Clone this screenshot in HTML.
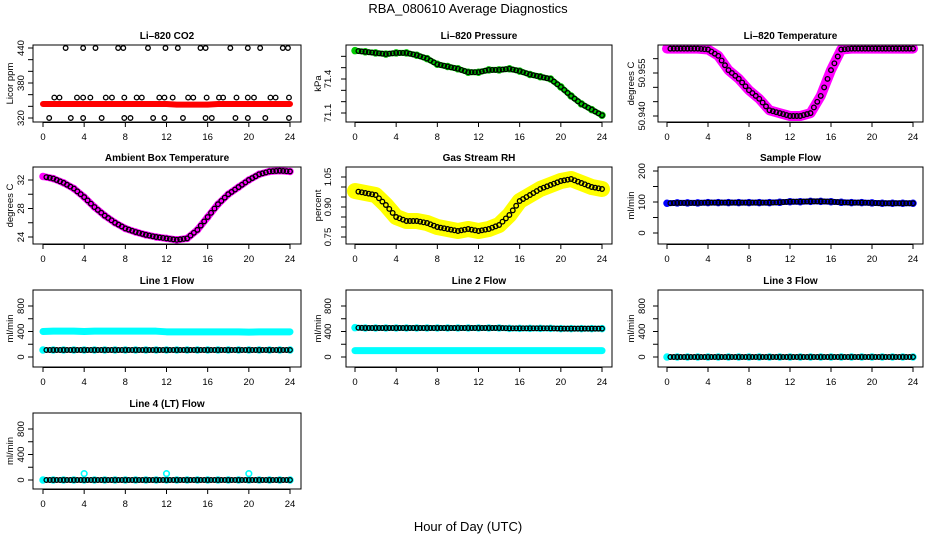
<!DOCTYPE html>
<html><head><meta charset="utf-8"><style>
body{margin:0;background:#fff}
svg text{font-family:"Liberation Sans",sans-serif}
</style></head><body>
<svg id="c" width="936" height="540" viewBox="0 0 936 540" xmlns="http://www.w3.org/2000/svg">
<text x="468" y="13" text-anchor="middle" font-size="13">RBA_080610  Average Diagnostics</text>
<text x="468" y="531" text-anchor="middle" font-size="13">Hour of Day (UTC)</text>
</svg>
<script>
const hours = [0,1,2,3,4,5,6,7,8,9,10,11,12,13,14,15,16,17,18,19,20,21,22,23,24];
const xTicks = [0,4,8,12,16,20,24];
const co2Red = [344,344,344,344,344,344,344,344,344,344,344,344,344,343,343,343,343,344,344,344,344,344,344,344,344];
const co2HighX = [2.2,3.9,5.1,7.3,7.8,10.2,11.9,13.1,15.3,15.8,18.2,19.9,21.1,23.3,23.8];
const co2LowX = [0.6,2.7,3.9,5.7,7.9,8.5,10.7,11.8,13.6,15.8,16.4,18.7,19.9,21.6,23.9];
const co2MidX = [1.1,1.6,3.3,3.9,4.6,6.1,6.7,7.9,9.1,9.6,11.3,11.8,12.6,14.1,14.6,15.9,17.1,17.5,18.8,19.9,20.5,22.1,22.6,23.9];
const pressure = [71.65,71.64,71.63,71.62,71.63,71.63,71.61,71.58,71.53,71.51,71.49,71.46,71.46,71.48,71.48,71.49,71.47,71.44,71.42,71.40,71.33,71.25,71.18,71.13,71.08];
const liTemp = [50.9635,50.9635,50.9635,50.9635,50.9632,50.961,50.956,50.953,50.949,50.946,50.942,50.941,50.940,50.940,50.941,50.947,50.956,50.9632,50.9635,50.9635,50.9635,50.9635,50.9635,50.9635,50.9635];
const ambient = [32.5,32.2,31.6,30.8,29.6,28.2,27.0,26.0,25.2,24.7,24.3,24.0,23.8,23.6,23.8,25.0,26.8,28.6,30.0,31.0,32.0,32.8,33.2,33.3,33.2];
const rh = [0.98,0.97,0.96,0.91,0.85,0.83,0.83,0.82,0.80,0.79,0.78,0.79,0.78,0.79,0.81,0.86,0.93,0.96,0.99,1.01,1.03,1.04,1.02,1.00,0.99];
const sampleFlow = [96,97,97,97,98,98,98,98,98,98,98,99,101,101,102,102,101,99,98,98,97,96,96,96,96];
const line1High = [400,405,405,405,400,405,405,405,405,405,405,405,395,395,395,395,395,395,395,395,390,395,395,395,395];
const line1Low = [110,110,110,110,110,110,110,110,110,110,110,110,110,110,110,110,110,110,110,110,110,110,110,110,110];
const line2High = [460,455,455,455,455,455,455,455,455,455,455,455,455,455,455,450,450,450,450,450,445,445,445,445,445];
const line2Low = [100,100,100,100,100,100,100,100,100,100,100,100,100,100,100,100,100,100,100,100,100,100,100,100,100];
const line3 = [0,0,0,0,0,0,0,0,0,0,0,0,0,0,0,0,0,0,0,0,0,0,0,0,0];
const line4 = [0,0,0,0,0,0,0,0,0,0,0,0,0,0,0,0,0,0,0,0,0,0,0,0,0];
const line4SpikeX = [4,12,20];
const line4SpikeV = [100,100,100];

const NS='http://www.w3.org/2000/svg';
const svg=document.getElementById('c');
function mk(tag,attrs,parent){const e=document.createElementNS(NS,tag);for(const k in attrs)e.setAttribute(k,attrs[k]);(parent||svg).appendChild(e);return e;}
const cols=[{l:33,r:301,x0:43,x24:290,tl:21,tt:10},{l:346,r:612,x0:355,x24:602,tl:328,tt:318},{l:658,r:923,x0:667,x24:913,tl:642,tt:631}];
const rows=[{t:45,b:122},{t:167,b:244},{t:290,b:367},{t:413,b:489}];
function panel(name,title,ci,ri,ylab,ymap,yticks,ylabels,drawFn){
  const c=cols[ci],r=rows[ri];
  const g=mk('g',{});
  
  
  const sx=v=>c.x0+(c.x24-c.x0)*v/24;
  const sy=v=>ymap[1]+(v-ymap[0])*(ymap[3]-ymap[1])/(ymap[2]-ymap[0]);
  const cp=mk('clipPath',{id:'cp'+name},g);
  mk('rect',{x:c.l,y:r.t,width:c.r-c.l,height:r.b-r.t},cp);
  const dg=mk('g',{'clip-path':'url(#cp'+name+')'},g);
  
  
  drawFn(dg,sx,sy);
  const box=mk('rect',{x:c.l,y:r.t,width:c.r-c.l,height:r.b-r.t,fill:'none',stroke:'#000','stroke-width':1},g);
  
  
  const t=mk('text',{x:(c.l+c.r)/2,y:r.t-6,'text-anchor':'middle','font-size':10,'font-weight':'bold'},g);
  t.textContent=title;
  
  
  xTicks.forEach(v=>{
    mk('line',{x1:sx(v),x2:sx(v),y1:r.b,y2:r.b+5,stroke:'#000'},g);
    const tx=mk('text',{x:sx(v),y:r.b+18,'text-anchor':'middle','font-size':9.5},g);
    tx.textContent=v;
    
    
  });
  mk('line',{x1:c.x0,x2:c.x24,y1:r.b+0.5,y2:r.b+0.5,stroke:'#000'},g);
  const yv=yticks.map(sy);
  mk('line',{x1:c.l,x2:c.l,y1:Math.min(...yv),y2:Math.max(...yv),stroke:'#000'},g);
  yticks.forEach((v,i)=>{
    const y=sy(v);
    mk('line',{x1:c.l-5,x2:c.l,y1:y,y2:y,stroke:'#000'},g);
    if(ylabels[i]!==''){
      const tx=mk('text',{x:c.tl,y:y,'text-anchor':'middle','font-size':9.5,transform:`rotate(-90 ${c.tl} ${y})`,dy:'3'},g);
      tx.textContent=ylabels[i];
      
      
    }
  });
  const yc=(r.t+r.b)/2;
  const yl=mk('text',{x:c.tt,y:yc,'text-anchor':'middle','font-size':9.5,transform:`rotate(-90 ${c.tt} ${yc})`,dy:'3'},g);
  yl.textContent=ylab;
  
  
}
function band(g,sx,sy,xs,vals,color,w){
  const p=mk('polyline',{points:xs.map((x,i)=>sx(x)+','+sy(vals[i])).join(' '),fill:'none',stroke:color,'stroke-width':w,'stroke-linecap':'round','stroke-linejoin':'round'},g);
  
  
}
function pts(g,sx,sy,xs,vals,color,rad,sw){
  xs.forEach((x,i)=>{
    const ci=mk('circle',{cx:sx(x),cy:sy(vals[i]),r:rad||2.3,fill:'none',stroke:color,'stroke-width':sw||1.3},g);
    
    
  });
}
function halfSteps(vals){
  const xs=[],vs=[];
  for(let i=0;i<vals.length;i++){xs.push(hours[i]);vs.push(vals[i]);if(i<vals.length-1){xs.push(hours[i]+0.33);vs.push(vals[i]*0.67+vals[i+1]*0.33);xs.push(hours[i]+0.66);vs.push(vals[i]*0.34+vals[i+1]*0.66);}}
  return [xs.slice(1),vs.slice(1)];
}
function std(g,sx,sy,vals,color,w){
  band(g,sx,sy,hours,vals,color,w);
  pts(g,sx,sy,hours,vals,color,3,1.5);
  const [xs,vs]=halfSteps(vals);
  pts(g,sx,sy,xs,vs,'#000',2.3,1.3);
}
const flowTicks=[0,200,400,600,800], flowLabs=['0','','400','','800'];
panel('co2','Li\u2013820 CO2',0,0,'Licor ppm',[320,118,440,48],[320,340,360,380,400,420,440],['320','','','380','','','440'],(g,sx,sy)=>{
  band(g,sx,sy,hours,co2Red,'#f00',6);
  pts(g,sx,sy,co2HighX,co2HighX.map(()=>440),'#000');
  pts(g,sx,sy,co2LowX,co2LowX.map(()=>320),'#000');
  pts(g,sx,sy,co2MidX,co2MidX.map(()=>355),'#000');
});
panel('pressure','Li\u2013820 Pressure',1,0,'kPa',[71.1,113,71.4,79],[71.1,71.2,71.3,71.4,71.5,71.6],['71.1','','','71.4','',''],(g,sx,sy)=>std(g,sx,sy,pressure,'#0c0',6));
panel('li-temp','Li\u2013820 Temperature',2,0,'degrees C',[50.940,116,50.955,73],[50.940,50.945,50.950,50.955,50.960],['50.940','','','50.955',''],(g,sx,sy)=>std(g,sx,sy,liTemp,'#f0f',10));
panel('ambient','Ambient Box Temperature',0,1,'degrees C',[24,237,32,180],[24,26,28,30,32],['24','','28','','32'],(g,sx,sy)=>std(g,sx,sy,ambient,'#f0f',7));
panel('rh','Gas Stream RH',1,1,'percent',[0.75,237,1.05,177],[0.75,0.80,0.85,0.90,0.95,1.00,1.05],['0.75','','','0.90','','','1.05'],(g,sx,sy)=>std(g,sx,sy,rh,'#ff0',16));
panel('sample-flow','Sample Flow',2,1,'ml/min',[0,233,200,171],[0,50,100,150,200],['0','','100','','200'],(g,sx,sy)=>std(g,sx,sy,sampleFlow,'#00f',6));
panel('line1','Line 1 Flow',0,2,'ml/min',[0,357,800,306],flowTicks,flowLabs,(g,sx,sy)=>{band(g,sx,sy,hours,line1High,'#0ff',7);std(g,sx,sy,line1Low,'#0ff',5);});
panel('line2','Line 2 Flow',1,2,'ml/min',[0,357,800,306],flowTicks,flowLabs,(g,sx,sy)=>{band(g,sx,sy,hours,line2Low,'#0ff',7);std(g,sx,sy,line2High,'#0ff',6);});
panel('line3','Line 3 Flow',2,2,'ml/min',[0,357,800,306],flowTicks,flowLabs,(g,sx,sy)=>std(g,sx,sy,line3,'#0ff',5));
panel('line4','Line 4 (LT) Flow',0,3,'ml/min',[0,480,800,429],flowTicks,flowLabs,(g,sx,sy)=>{std(g,sx,sy,line4,'#0ff',5);pts(g,sx,sy,line4SpikeX,line4SpikeV,'#0ff',2.8,1.6);});
</script>
</body></html>
